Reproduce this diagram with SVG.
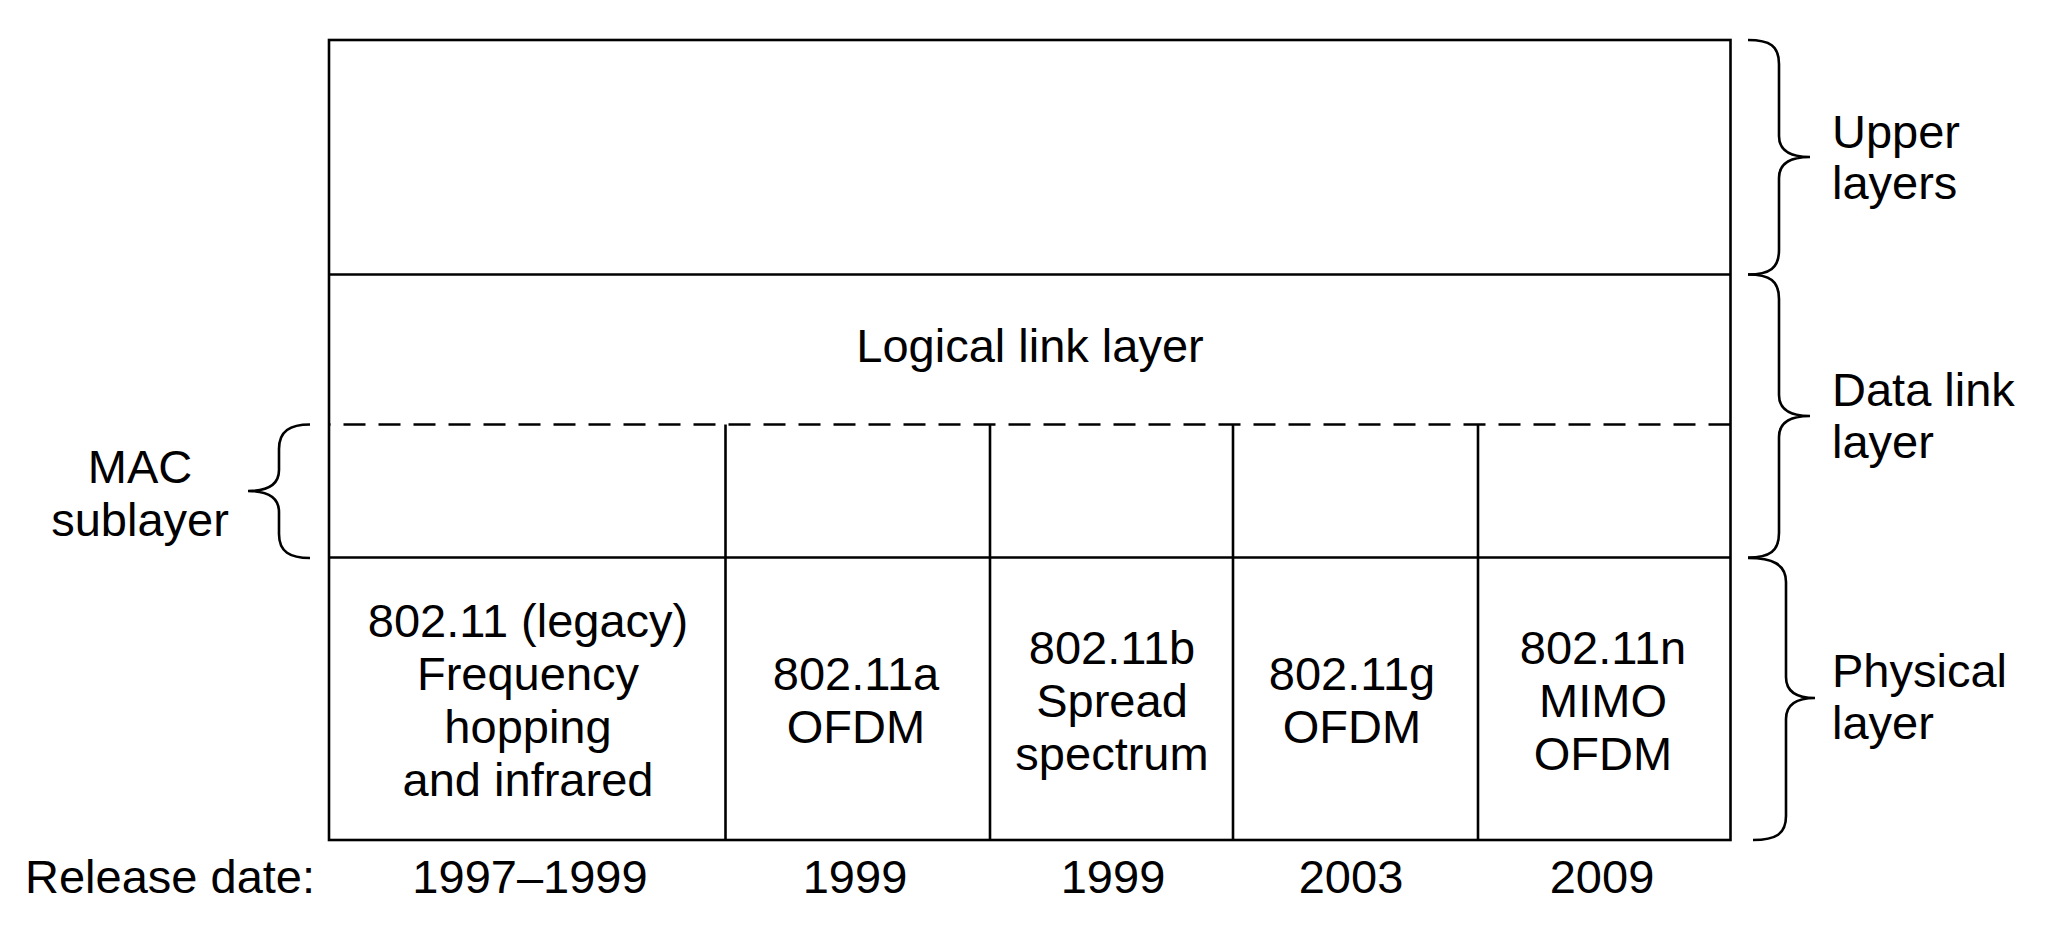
<svg xmlns="http://www.w3.org/2000/svg" width="2046" height="946" viewBox="0 0 2046 946">
  <style>
    .ln { fill: none; stroke: #000; stroke-width: 2.6; }
    .dash { fill: none; stroke: #000; stroke-width: 2.6; stroke-dasharray: 22 13; }
    .brace { fill: none; stroke: #000; stroke-width: 2.6; stroke-linecap: butt; }
    text { font-family: "Liberation Sans", Arial, Helvetica, sans-serif; font-size: 47px; fill: #000; }
    .c { text-anchor: middle; }
    .l { text-anchor: start; }
  </style>
  <rect width="2046" height="946" fill="#fff"/>

  <!-- protocol stack frame -->
  <g id="stack">
    <rect class="ln" x="329" y="40" width="1401.5" height="800"/>
    <line class="ln" x1="329" y1="274.5" x2="1730.5" y2="274.5"/>
    <line class="ln" x1="329" y1="557.5" x2="1730.5" y2="557.5"/>
    <path class="dash" d="M1730.5,424.5 L329,424.5"/>
  </g>

  <!-- column dividers through MAC and physical rows -->
  <g id="dividers">
    <line class="ln" x1="725.5" y1="424.5" x2="725.5" y2="840"/>
    <line class="ln" x1="990" y1="424.5" x2="990" y2="840"/>
    <line class="ln" x1="1233" y1="424.5" x2="1233" y2="840"/>
    <line class="ln" x1="1478" y1="424.5" x2="1478" y2="840"/>
  </g>

  <g id="llc">
    <text class="c" x="1030" y="362">Logical link layer</text>
  </g>

  <g id="legacy">
    <text class="c" x="528" y="637">802.11 (legacy)</text>
    <text class="c" x="528" y="690">Frequency</text>
    <text class="c" x="528" y="743">hopping</text>
    <text class="c" x="528" y="796">and infrared</text>
  </g>
  <g id="phy-a">
    <text class="c" x="856" y="690">802.11a</text>
    <text class="c" x="856" y="743">OFDM</text>
  </g>
  <g id="phy-b">
    <text class="c" x="1112" y="663.5">802.11b</text>
    <text class="c" x="1112" y="716.5">Spread</text>
    <text class="c" x="1112" y="769.5">spectrum</text>
  </g>
  <g id="phy-g">
    <text class="c" x="1352" y="690">802.11g</text>
    <text class="c" x="1352" y="743">OFDM</text>
  </g>
  <g id="phy-n">
    <text class="c" x="1603" y="663.5">802.11n</text>
    <text class="c" x="1603" y="716.5">MIMO</text>
    <text class="c" x="1603" y="769.5">OFDM</text>
  </g>

  <!-- release dates row -->
  <g id="dates">
    <text class="l" x="25" y="893">Release date:</text>
    <text class="c" x="530" y="893">1997–1999</text>
    <text class="c" x="855" y="893">1999</text>
    <text class="c" x="1113" y="893">1999</text>
    <text class="c" x="1351" y="893">2003</text>
    <text class="c" x="1602" y="893">2009</text>
  </g>

  <!-- braces -->
  <g id="braces">
    <path class="brace" d="M1748,40 C1770,40 1779,46 1779,64 L1779,136 C1779,150 1790,157 1810,157 C1790,157 1779,164 1779,178 L1779,250 C1779,268 1770,274.5 1748,274.5"/>
    <path class="brace" d="M1748,274.5 C1770,274.5 1779,281 1779,299 L1779,395 C1779,409 1790,416 1810,416 C1790,416 1779,423 1779,437 L1779,533 C1779,551 1770,557.5 1748,557.5"/>
    <path class="brace" d="M1748,558 C1772,558 1786,564 1786,582 L1786,677 C1786,691 1796,698 1815,698 C1796,698 1786,705 1786,719 L1786,816 C1786,834 1776,840 1753,840"/>
    <path class="brace" d="M310,424.5 C290,424.5 279,431 279,449 L279,470 C279,484 268,491 248,491 C268,491 279,498 279,512 L279,534 C279,552 290,558 310,558"/>
  </g>

  <g id="upper-label">
    <text class="l" x="1832" y="148">Upper</text>
    <text class="l" x="1832" y="199">layers</text>
  </g>
  <g id="datalink-label">
    <text class="l" x="1832" y="406">Data link</text>
    <text class="l" x="1832" y="458">layer</text>
  </g>
  <g id="physical-label">
    <text class="l" x="1832" y="687">Physical</text>
    <text class="l" x="1832" y="739">layer</text>
  </g>
  <g id="mac-label">
    <text class="c" x="140" y="483">MAC</text>
    <text class="c" x="140" y="536">sublayer</text>
  </g>
</svg>
